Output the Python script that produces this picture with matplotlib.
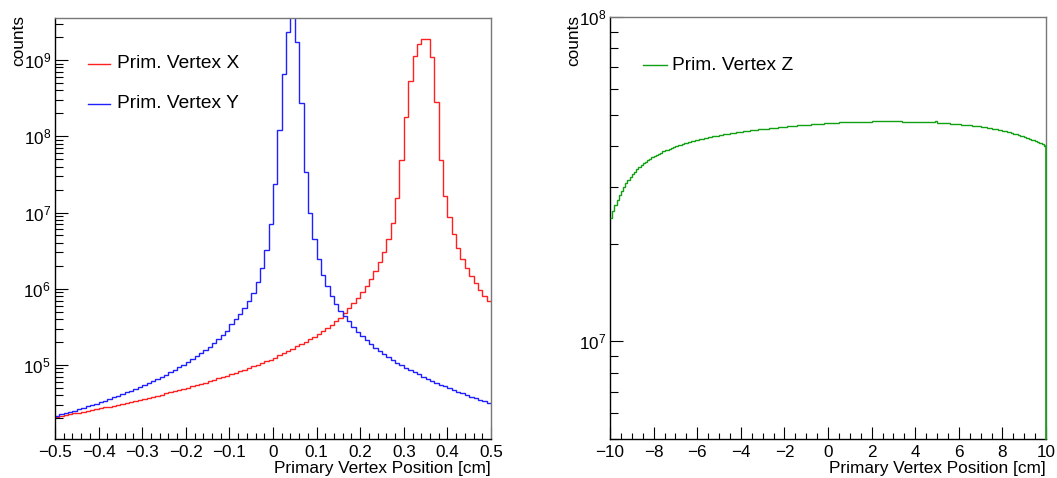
import numpy as np
import matplotlib
matplotlib.use("Agg")
import matplotlib.pyplot as plt
from matplotlib.ticker import LogLocator, MultipleLocator, NullFormatter, LogFormatterSciNotation

plt.rcParams["font.family"] = ["Liberation Sans", "DejaVu Sans"]
plt.rcParams["mathtext.fontset"] = "custom"
plt.rcParams["mathtext.rm"] = "Liberation Sans"
plt.rcParams["mathtext.it"] = "Liberation Sans:italic"
plt.rcParams["mathtext.bf"] = "Liberation Sans:bold"

# ── data: 100 bins of 0.01 cm in x/y, 200 bins of 0.1 cm in z ──────────
xy_range = (-0.5, 0.5)
z_range = (-10.0, 10.0)

vtx_x_counts = [
    2.099e4, 2.153e4, 2.203e4, 2.259e4, 2.312e4, 2.371e4, 2.432e4, 2.495e4, 2.564e4, 2.630e4,
    2.704e4, 2.773e4, 2.851e4, 2.931e4, 3.020e4, 3.105e4, 3.199e4, 3.289e4, 3.388e4, 3.499e4,
    3.606e4, 3.715e4, 3.837e4, 3.963e4, 4.093e4, 4.236e4, 4.385e4, 4.539e4, 4.699e4, 4.864e4,
    5.047e4, 5.236e4, 5.445e4, 5.649e4, 5.875e4, 6.124e4, 6.383e4, 6.653e4, 6.934e4, 7.244e4,
    7.568e4, 7.925e4, 8.299e4, 8.710e4, 9.141e4, 9.616e4, 1.012e5, 1.067e5, 1.125e5, 1.175e5,
    1.247e5, 1.340e5, 1.436e5, 1.542e5, 1.637e5, 1.758e5, 1.888e5, 2.023e5, 2.173e5, 2.355e5,
    2.553e5, 2.793e5, 3.062e5, 3.381e5, 3.741e5, 4.178e5, 4.853e5, 5.546e5, 6.457e5, 7.568e5,
    8.995e5, 1.089e6, 1.334e6, 1.714e6, 2.249e6, 3.069e6, 4.467e6, 7.362e6, 1.542e7, 4.898e7,
    1.816e8, 5.383e8, 1.146e9, 1.618e9, 1.897e9, 1.897e9, 1.091e9, 2.851e8, 4.898e7, 1.667e7,
    8.670e6, 5.236e6, 3.459e6, 2.460e6, 1.892e6, 1.486e6, 1.180e6, 9.638e5, 8.110e5, 6.982e5,
]

vtx_y_counts = [
    2.163e4, 2.244e4, 2.333e4, 2.427e4, 2.523e4, 2.630e4, 2.742e4, 2.858e4, 2.979e4, 3.119e4,
    3.258e4, 3.412e4, 3.581e4, 3.750e4, 3.945e4, 4.150e4, 4.365e4, 4.613e4, 4.864e4, 5.152e4,
    5.458e4, 5.794e4, 6.166e4, 6.561e4, 7.015e4, 7.499e4, 8.054e4, 8.650e4, 9.333e4, 1.009e5,
    1.096e5, 1.194e5, 1.303e5, 1.432e5, 1.578e5, 1.746e5, 1.945e5, 2.183e5, 2.466e5, 2.805e5,
    3.420e5, 3.981e5, 4.667e5, 5.649e5, 6.982e5, 8.892e5, 1.239e6, 1.858e6, 3.199e6, 7.015e6,
    2.350e7, 1.213e8, 6.531e8, 2.323e9, 5.000e9, 1.750e9, 2.716e8, 3.443e7, 9.977e6, 4.467e6,
    2.460e6, 1.517e6, 1.089e6, 8.110e5, 6.324e5, 5.117e5, 4.436e5, 3.776e5, 3.184e5, 2.735e5,
    2.404e5, 2.128e5, 1.888e5, 1.687e5, 1.528e5, 1.393e5, 1.274e5, 1.164e5, 1.072e5, 1.000e5,
    9.226e4, 8.590e4, 8.017e4, 7.551e4, 7.015e4, 6.607e4, 6.223e4, 5.861e4, 5.508e4, 5.248e4,
    4.943e4, 4.699e4, 4.467e4, 4.256e4, 4.036e4, 3.837e4, 3.690e4, 3.508e4, 3.373e4, 3.170e4,
]

# z counts in units of 1e7
vtx_z_counts_e7 = [
    2.40, 2.52, 2.63, 2.73, 2.82, 2.91, 2.99, 3.07, 3.14, 3.21,
    3.27, 3.33, 3.39, 3.44, 3.49, 3.54, 3.58, 3.62, 3.66, 3.70,
    3.73, 3.76, 3.79, 3.82, 3.85, 3.88, 3.90, 3.93, 3.95, 3.97,
    4.00, 4.02, 4.04, 4.06, 4.08, 4.10, 4.12, 4.14, 4.15, 4.17,
    4.19, 4.20, 4.22, 4.23, 4.25, 4.26, 4.28, 4.29, 4.30, 4.31,
    4.33, 4.34, 4.35, 4.36, 4.37, 4.38, 4.39, 4.40, 4.41, 4.42,
    4.43, 4.44, 4.45, 4.46, 4.47, 4.48, 4.48, 4.49, 4.50, 4.51,
    4.52, 4.52, 4.53, 4.54, 4.55, 4.55, 4.56, 4.57, 4.58, 4.58,
    4.59, 4.60, 4.60, 4.61, 4.62, 4.62, 4.63, 4.64, 4.64, 4.65,
    4.66, 4.66, 4.67, 4.67, 4.68, 4.68, 4.69, 4.69, 4.70, 4.70,
    4.71, 4.71, 4.72, 4.72, 4.72, 4.73, 4.73, 4.73, 4.74, 4.74,
    4.74, 4.75, 4.75, 4.75, 4.75, 4.76, 4.76, 4.76, 4.76, 4.76,
    4.77, 4.77, 4.77, 4.77, 4.77, 4.77, 4.77, 4.77, 4.77, 4.77,
    4.77, 4.77, 4.77, 4.77, 4.76, 4.76, 4.76, 4.76, 4.76, 4.75,
    4.75, 4.75, 4.75, 4.74, 4.74, 4.74, 4.73, 4.73, 4.75, 4.77,
    4.72, 4.72, 4.71, 4.71, 4.70, 4.70, 4.69, 4.69, 4.68, 4.67,
    4.67, 4.66, 4.65, 4.65, 4.64, 4.63, 4.62, 4.61, 4.61, 4.60,
    4.59, 4.58, 4.57, 4.55, 4.54, 4.53, 4.52, 4.50, 4.49, 4.47,
    4.46, 4.44, 4.43, 4.41, 4.39, 4.37, 4.35, 4.33, 4.31, 4.29,
    4.27, 4.24, 4.22, 4.19, 4.17, 4.14, 4.11, 4.08, 4.05, 4.01,
]

xy_edges = np.linspace(xy_range[0], xy_range[1], len(vtx_x_counts) + 1)
z_edges = np.linspace(z_range[0], z_range[1], len(vtx_z_counts_e7) + 1)
z_counts = np.array(vtx_z_counts_e7) * 1e7

RED, BLUE, GREEN = "#ff2020", "#2020ff", "#11a011"
TICK_FS, TITLE_FS, LEG_FS = 12.3, 12.4, 13.8

W, H = 1057, 478
fig = plt.figure(figsize=(W / 100, H / 100), dpi=100)
fig.patch.set_facecolor("white")

ax1 = fig.add_axes([55 / W, 1 - 439 / H, 436 / W, 421 / H])
ax2 = fig.add_axes([610 / W, 1 - 439 / H, 436 / W, 422 / H])


def root_style(ax):
    ax.set_yscale("log")
    ax.yaxis.set_major_locator(LogLocator(base=10, numticks=20))
    ax.yaxis.set_minor_locator(LogLocator(base=10, subs=np.arange(2, 10), numticks=20))
    ax.yaxis.set_major_formatter(LogFormatterSciNotation())
    ax.yaxis.set_minor_formatter(NullFormatter())
    ax.tick_params(which="both", direction="in", top=False, right=False,
                   width=0.8, color="black", labelsize=TICK_FS)
    ax.tick_params(axis="x", which="major", length=9, pad=4)
    ax.tick_params(axis="x", which="minor", length=4.2)
    ax.tick_params(axis="y", which="major", length=9.5, pad=3)
    ax.tick_params(axis="y", which="minor", length=5.5)
    for side in ("left", "bottom"):
        ax.spines[side].set_color("black")
        ax.spines[side].set_linewidth(1.0)
    for side in ("top", "right"):
        ax.spines[side].set_color("#777777")
        ax.spines[side].set_linewidth(1.0)


# ── left: x / y vertex ─────────────────────────────────────────────────
ax1.stairs(vtx_x_counts, xy_edges, baseline=None, color=RED, lw=1.0)
ax1.stairs(vtx_y_counts, xy_edges, baseline=None, color=BLUE, lw=1.0)
root_style(ax1)
ax1.set_xlim(*xy_range)
ax1.set_ylim(1.07e4, 3.56e9)
ax1.xaxis.set_minor_locator(MultipleLocator(0.02))
ax1.set_xticks(np.round(np.arange(-0.5, 0.51, 0.1), 1))
ax1.set_xticklabels(["\u22120.5", "\u22120.4", "\u22120.3", "\u22120.2", "\u22120.1",
                     "0", "0.1", "0.2", "0.3", "0.4", "0.5"])

ax1.plot([0.0757, 0.126], [0.891, 0.891], transform=ax1.transAxes, color=RED, lw=1.0)
ax1.text(0.142, 0.891, "Prim. Vertex X", transform=ax1.transAxes, fontsize=LEG_FS, va="center")
ax1.plot([0.0757, 0.126], [0.796, 0.796], transform=ax1.transAxes, color=BLUE, lw=1.0)
ax1.text(0.142, 0.796, "Prim. Vertex Y", transform=ax1.transAxes, fontsize=LEG_FS, va="center")

# ── right: z vertex ────────────────────────────────────────────────────
ax2.stairs(z_counts, z_edges, baseline=None, color=GREEN, lw=1.0, zorder=3)
# closing edge of the histogram at the upper range limit
ax2.plot([z_edges[-1], z_edges[-1]], [z_counts[-1], 5.0e6], color=GREEN, lw=1.2, zorder=3,
         clip_on=False)
root_style(ax2)
ax2.set_xlim(*z_range)
ax2.set_ylim(5.0e6, 1e8)
ax2.xaxis.set_minor_locator(MultipleLocator(0.5))
ax2.set_xticks(np.arange(-10, 11, 2))
ax2.set_xticklabels([("\u2212%d" % -v) if v < 0 else "%d" % v for v in range(-10, 11, 2)])

ax2.plot([0.075, 0.130], [0.886, 0.886], transform=ax2.transAxes, color=GREEN, lw=1.0)
ax2.text(0.143, 0.886, "Prim. Vertex Z", transform=ax2.transAxes, fontsize=LEG_FS, va="center")

# ── axis titles ────────────────────────────────────────────────────────
fig.text(19 / W, 1 - 15 / H, "counts", rotation=90, ha="center", va="top", fontsize=TITLE_FS)
fig.text(574 / W, 1 - 15 / H, "counts", rotation=90, ha="center", va="top", fontsize=TITLE_FS)
fig.text(491 / W, 1 - 468 / H, "Primary Vertex Position [cm]", ha="right", va="center",
         fontsize=TITLE_FS)
fig.text(1046 / W, 1 - 468 / H, "Primary Vertex Position [cm]", ha="right", va="center",
         fontsize=TITLE_FS)

fig.savefig("out.png", dpi=100)
